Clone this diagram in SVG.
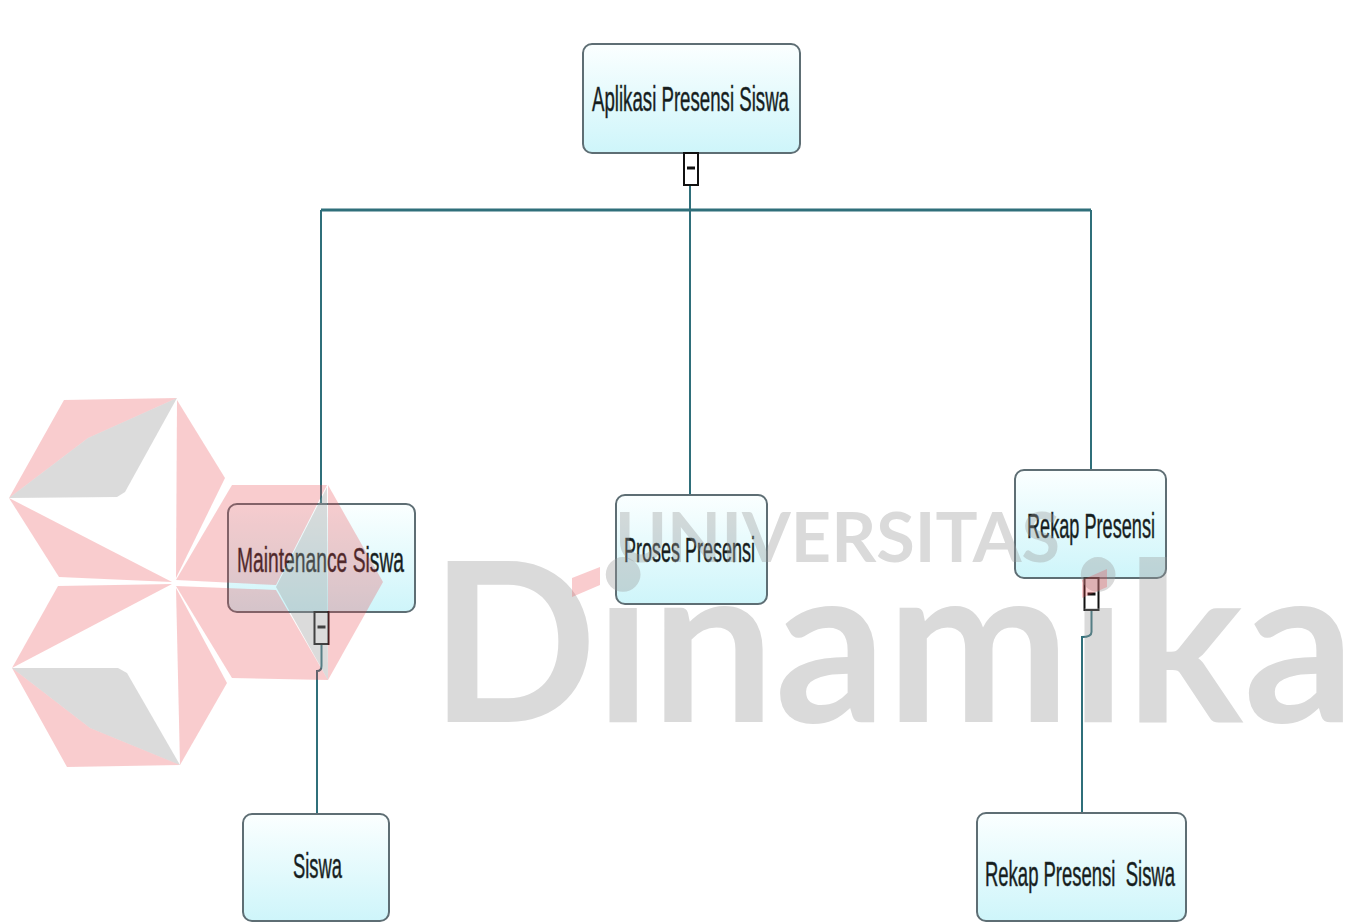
<svg xmlns="http://www.w3.org/2000/svg" width="1365" height="924" viewBox="0 0 1365 924">
<defs>
<linearGradient id="nodeFill" x1="0" y1="0" x2="0" y2="1">
<stop offset="0" stop-color="#fbffff"/>
<stop offset="1" stop-color="#cef5fa"/>
</linearGradient>
<style>
.node rect.box{fill:url(#nodeFill);stroke:#5e6e74;stroke-width:2}
.node text{font-family:"Liberation Sans",Arial,sans-serif;font-size:35px;fill:#151c1c;stroke:#2a3434;stroke-width:0.5;white-space:pre}
.conn path{fill:none;stroke:#2f6f7a;stroke-width:2}
.toggle rect{fill:#fff;stroke:#111;stroke-width:2}
.toggle line{stroke:#111;stroke-width:3}
.wm-pink{fill:#e8414a;opacity:.27}
.wm-gray{fill:#9a9a9a;opacity:.36}
.wm-text{font-family:Lato,"Open Sans",sans-serif;font-weight:700;fill:#9a9a9a;opacity:.36}
</style>
</defs>
<rect width="1365" height="924" fill="#fff"/>

<g id="connectors" class="conn">
<path d="M690 186 V495"/>
<path d="M321 210 H1091" style="stroke-width:3"/>
<path d="M321 210 V504"/>
<path d="M1091 210 V470"/>
<path d="M321.5 645 V666 Q321.5 671 317 671 V814"/>
<path d="M1091.5 611 V632 Q1091.5 637 1082 637 V813"/>
</g>

<g id="node-aplikasi" class="node">
<rect class="box" x="583" y="44" width="217" height="109" rx="9"/>
<text x="592" y="111" textLength="197" lengthAdjust="spacingAndGlyphs">Aplikasi Presensi Siswa</text>
<g class="toggle"><rect x="684" y="153" width="14" height="32"/><line x1="687" y1="168" x2="695" y2="168"/></g>
</g>

<g id="node-maintenance" class="node">
<rect class="box" x="228" y="504" width="187" height="108" rx="9"/>
<text x="237" y="572" textLength="167" lengthAdjust="spacingAndGlyphs">Maintenance Siswa</text>
<g class="toggle"><rect x="314.5" y="612" width="14" height="32"/><line x1="317.5" y1="627" x2="325.5" y2="627"/></g>
</g>

<g id="node-proses" class="node">
<rect class="box" x="616" y="495" width="151" height="109" rx="9"/>
<text x="624" y="562" textLength="131" lengthAdjust="spacingAndGlyphs">Proses Presensi</text>
</g>

<g id="node-rekap" class="node">
<rect class="box" x="1015" y="470" width="151" height="108" rx="9"/>
<text x="1027" y="538" textLength="128" lengthAdjust="spacingAndGlyphs">Rekap Presensi</text>
<g class="toggle"><rect x="1084.5" y="578" width="14" height="32"/><line x1="1087.5" y1="594" x2="1095.5" y2="594"/></g>
</g>

<g id="node-siswa" class="node">
<rect class="box" x="243" y="814" width="146" height="107" rx="9"/>
<text x="293" y="878" textLength="49" lengthAdjust="spacingAndGlyphs">Siswa</text>
</g>

<g id="node-rekap-siswa" class="node">
<rect class="box" x="977" y="813" width="209" height="108" rx="9"/>
<text x="985" y="886" textLength="190" lengthAdjust="spacingAndGlyphs">Rekap Presensi  Siswa</text>
</g>

<g id="watermark">
<polygon class="wm-pink" points="64,400 177,398 88,438 9,498"/>
<polygon class="wm-gray" points="9,498 88,438 177,398 125,492 117,497"/>
<polygon class="wm-pink" points="9,498 172,582 59,577"/>
<polygon class="wm-pink" points="177,400 225,478 176,578"/>
<polygon class="wm-pink" points="176,580 232,485 327,485 276,585"/>
<polygon class="wm-gray" points="276,587 327,487 328,680"/>
<polygon class="wm-pink" points="328,485 383,582 328,680"/>
<polygon class="wm-pink" points="176,586 276,590 328,680 232,678"/>
<polygon class="wm-pink" points="58,586 172,584 12,668"/>
<polygon class="wm-gray" points="12,668 118,668 127,673 180,765 90,728"/>
<polygon class="wm-pink" points="12,668 90,728 180,765 67,767"/>
<polygon class="wm-pink" points="176,588 227,683 180,765"/>
<text class="wm-text" x="615" y="562" font-size="68" textLength="445" lengthAdjust="spacingAndGlyphs">UNIVERSITAS</text>
<text class="wm-text" x="430" y="722" font-size="222" textLength="925" lengthAdjust="spacingAndGlyphs">Dinamika</text>
<polygon class="wm-pink" points="572,578 600,567 600,585 572,597"/>
<polygon class="wm-pink" points="1082,580 1107,569 1107,587 1082,598"/>
</g>
</svg>
